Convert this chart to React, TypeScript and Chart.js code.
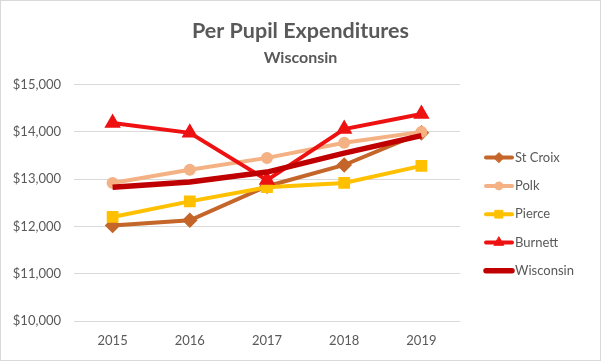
import React, { useEffect, useRef } from "react";
import { Chart, registerables } from "chart.js";
import { drawPoint } from "chart.js/helpers";

Chart.register(...registerables);

const years = ["2015", "2016", "2017", "2018", "2019"];
const stCroix = [12020, 12130, 12850, 13300, 13980];
const polk = [12920, 13200, 13450, 13770, 14000];
const pierce = [12200, 12530, 12830, 12920, 13280];
const burnett = [14190, 13980, 12980, 14060, 14380];
const wisconsin = [12830, 12940, 13150, 13550, 13920];

const FONT = "Lato, 'Open Sans', sans-serif";
const GREY = "#595959";

const sideLegend = {
  id: "sideLegend",
  afterDraw(chart: any) {
    const { ctx, chartArea } = chart;
    const x0 = chartArea.right + 26;
    const y0 = chartArea.top + 73;
    const step = 28.3;
    ctx.save();
    chart.data.datasets.forEach((ds: any, i: number) => {
      const y = y0 + i * step;
      ctx.beginPath();
      ctx.strokeStyle = ds.borderColor;
      ctx.lineWidth = ds.borderWidth;
      ctx.lineCap = "round";
      ctx.moveTo(x0, y);
      ctx.lineTo(x0 + 26, y);
      ctx.stroke();
      if (ds.pointRadius > 0) {
        ctx.fillStyle = ds.pointBackgroundColor;
        ctx.strokeStyle = ds.pointBorderColor;
        ctx.lineWidth = 1;
        drawPoint(ctx, { pointStyle: ds.pointStyle, radius: ds.pointRadius, borderWidth: 1, rotation: 0 } as any, x0 + 13, y);
      }
      ctx.fillStyle = GREY;
      ctx.font = `13px ${FONT}`;
      ctx.textBaseline = "middle";
      ctx.textAlign = "left";
      ctx.fillText(ds.label, x0 + 29, y);
    });
    ctx.restore();
  },
};

export default function App() {
  const ref = useRef<HTMLCanvasElement>(null);
  useEffect(() => {
    const mk = (label: string, data: number[], color: string, style: any, radius: number, width: number, order: number) => ({
      label,
      data,
      yAxisID: "y",
      borderColor: color,
      backgroundColor: color,
      pointBackgroundColor: color,
      pointBorderColor: color,
      pointStyle: style,
      pointRadius: radius,
      pointHoverRadius: radius,
      borderWidth: width,
      tension: 0,
      order,
    });
    const chart = new Chart(ref.current!, {
      type: "line",
      data: {
        labels: years,
        datasets: [
          mk("St Croix", stCroix, "#C4652A", "rectRot", 5, 4, 4),
          mk("Polk", polk, "#F4B183", "circle", 4, 4, 3),
          mk("Pierce", pierce, "#FFC000", "rect", 5.5, 4, 2),
          mk("Burnett", burnett, "#EE1111", "triangle", 5.5, 4, 1),
          mk("Wisconsin", wisconsin, "#C00000", "circle", 0, 5.5, 0),
        ],
      },
      options: {
        responsive: false,
        animation: false,
        layout: { padding: { left: 0, right: 0, bottom: 0, top: 0 } },
        plugins: {
          legend: { display: false },
          tooltip: { enabled: false },
          title: {
            display: true,
            text: "Per Pupil Expenditures",
            color: GREY,
            font: { family: FONT, size: 21.5, weight: "bold" },
            padding: { top: 17, bottom: 4 },
          },
          subtitle: {
            display: true,
            text: "Wisconsin",
            color: GREY,
            font: { family: FONT, size: 16, weight: "bold" },
            padding: { top: 0, bottom: 17.6 },
          },
        },
        scales: {
          x: {
            offset: true,
            grid: { display: false, drawTicks: false },
            border: { display: false },
            ticks: { color: GREY, font: { family: FONT, size: 13 }, padding: 11.7 },
          },
          y: {
            min: 10000,
            max: 15000,
            grid: { color: "#D9D9D9", drawTicks: false, lineWidth: 1 },
            border: { display: false },
            ticks: {
              stepSize: 1000,
              color: GREY,
              font: { family: FONT, size: 13 },
              padding: 13,
              callback: (v: any) => "$" + Number(v).toLocaleString("en-US"),
            },
            afterFit: (s: any) => {
              s.width = 73;
            },
          },
          legendSpace: {
            type: "linear",
            position: "right",
            display: true,
            grid: { display: false, drawTicks: false },
            border: { display: false },
            ticks: { display: false },
            afterFit: (s: any) => {
              s.width = 140;
            },
          },
        },
      },
      plugins: [sideLegend],
    });
    return () => chart.destroy();
  }, []);
  return (
    <div
      style={{
        position: "absolute",
        left: 0,
        top: 0,
        width: 601,
        height: 361,
        boxSizing: "border-box",
        border: "1px solid #D9D9D9",
        background: "#fff",
      }}
    >
      <canvas ref={ref} width={599} height={359} style={{ display: "block", width: 599, height: 359 }} />
    </div>
  );
}
